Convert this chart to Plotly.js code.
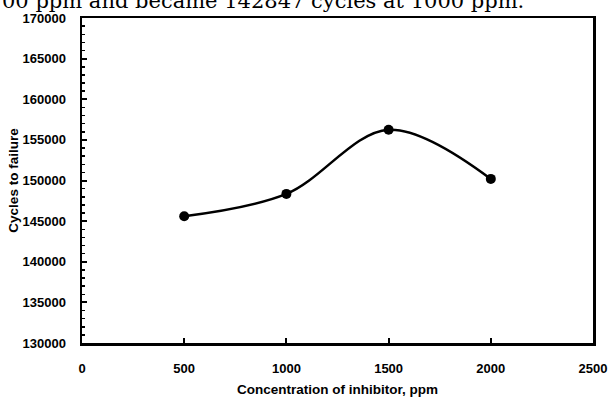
<!DOCTYPE html>
<html>
<head>
<meta charset="utf-8">
<script src="https://cdn.plot.ly/plotly-3.0.1.min.js"></script>
<style>html,body{margin:0;padding:0;background:#fff;}#chart{width:610px;height:401px;}</style>
</head>
<body>
<div id="chart"></div>
<script>
var concentration = [500, 1000, 1500, 2000];
var cycles = [145600, 148350, 156250, 150200];
var xTicks = [0, 500, 1000, 1500, 2000, 2500];
var yTicks = [130000, 135000, 140000, 145000, 150000, 155000, 160000, 165000, 170000];
var topText = "00 ppm and became 142847 cycles at 1000 ppm.";

var trace = {
  x: concentration, y: cycles, type: 'scatter', mode: 'lines+markers',
  line: {color: '#000', width: 2.5, shape: 'spline', smoothing: 1},
  marker: {color: '#000', size: 10},
  hoverinfo: 'skip'
};
var tickFont = {family: 'Liberation Sans, Arial, sans-serif', size: 13, color: '#000', weight: 'bold'};
var titleFont = {family: 'Liberation Sans, Arial, sans-serif', size: 13.5, color: '#000', weight: 'bold'};
var layout = {
  width: 610, height: 401,
  margin: {l: 82, r: 17, t: 18, b: 58},
  paper_bgcolor: '#fff', plot_bgcolor: '#fff',
  showlegend: false,
  xaxis: {
    range: [0, 2500], tickvals: xTicks, ticktext: xTicks.map(String),
    showline: true, linecolor: '#000', linewidth: 2.5, mirror: true,
    ticks: 'inside', ticklen: 5, tickwidth: 2, tickcolor: '#000',
    showgrid: false, zeroline: false, tickfont: tickFont, ticklabelstandoff: 12,
    title: {text: 'Concentration of inhibitor, ppm', font: titleFont, standoff: 10}
  },
  yaxis: {
    range: [130000, 170000], tickvals: yTicks, ticktext: yTicks.map(String),
    showline: true, linecolor: '#000', linewidth: 2.5, mirror: true,
    ticks: 'inside', ticklen: 5, tickwidth: 2, tickcolor: '#000',
    minor: {dtick: 1000, ticks: 'inside', ticklen: 3, tickwidth: 1.5, tickcolor: '#000', showgrid: false},
    showgrid: false, zeroline: false, tickfont: tickFont, ticklabelstandoff: 11,
    title: {text: 'Cycles to failure', font: titleFont, standoff: 1}
  },
  annotations: [{
    text: topText, xref: 'paper', yref: 'paper', x: -0.16, y: 1.0, xanchor: 'left', yanchor: 'bottom',
    yshift: 3, showarrow: false,
    font: {family: 'DejaVu Serif, Liberation Serif, serif', size: 21, color: '#000'}
  }]
};
Plotly.newPlot('chart', [trace], layout, {staticPlot: true, displayModeBar: false});
</script>
</body>
</html>
